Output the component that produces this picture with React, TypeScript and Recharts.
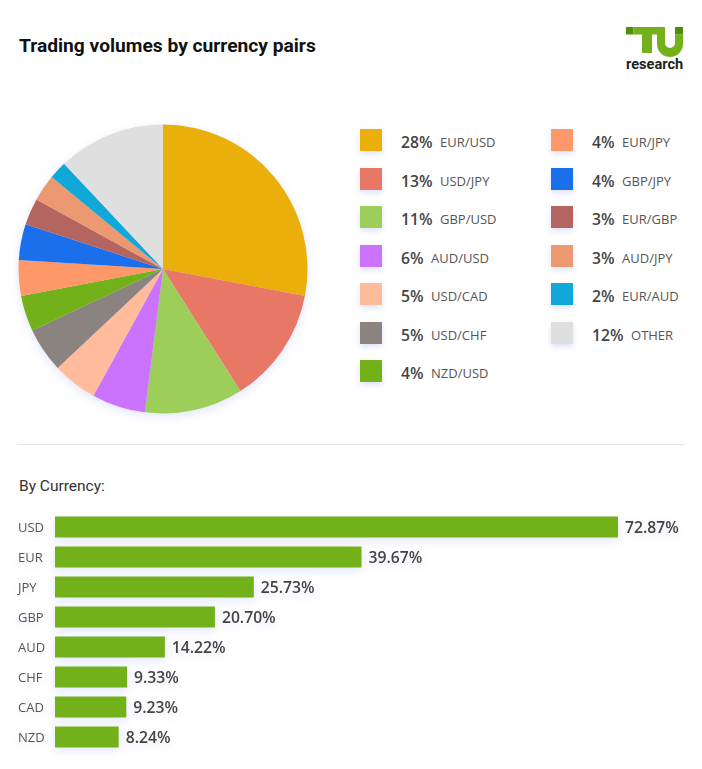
import React from 'react';
import { PieChart, Pie, Cell, BarChart, Bar, XAxis, YAxis, LabelList } from 'recharts';

const pairNames = ['EUR/USD','USD/JPY','GBP/USD','AUD/USD','USD/CAD','USD/CHF','NZD/USD','EUR/JPY','GBP/JPY','EUR/GBP','AUD/JPY','EUR/AUD','OTHER'];
const pairShares = [28,13,11,6,5,5,4,4,4,3,3,2,12];
const pairColors = ['#EAAF0A','#E87865','#9DCE5A','#CB72FF','#FFBB9B','#8B8380','#72B11A','#FF9868','#1B6FEB','#B5655F','#EC9870','#10A8D8','#DFDFDF'];
const currencies = ['USD','EUR','JPY','GBP','AUD','CHF','CAD','NZD'];
const currencyShares = [72.87,39.67,25.73,20.7,14.22,9.33,9.23,8.24];

const pieData = pairNames.map((name, i) => ({ name, value: pairShares[i] }));
const barData = currencies.map((name, i) => ({ name, value: currencyShares[i] }));
const legendColumns = [pieData.slice(0, 7), pieData.slice(7)];
const legendColumnX = [360, 551];
const shadow = 'drop-shadow(0 3px 5px rgba(90,110,240,0.18))';

const CurrencyTick = ({ y, payload }: any) => (
  <text x={18} y={y + 5} fontSize={13} fill="#555" fontFamily="'Open Sans'">{payload.value}</text>
);

const ValueLabel = ({ x, y, width, height, value }: any) => (
  <text x={x + width + 7} y={y + height / 2 + 6} fontSize={15.7} fontWeight={600} fill="#444" fontFamily="'Open Sans'">
    {value.toFixed(2)}%
  </text>
);

export default function App() {
  return (
    <div style={{ position: 'absolute', left: 0, top: 0, width: 702, height: 769, background: '#fff', overflow: 'hidden' }}>
      <div style={{ position: 'absolute', left: 19, top: 35, fontFamily: 'Roboto', fontWeight: 700, fontSize: 19.2, lineHeight: '22px', color: '#111', whiteSpace: 'nowrap' }}>
        Trading volumes by currency pairs
      </div>

      <svg style={{ position: 'absolute', left: 620, top: 20 }} width={70} height={55}>
        <rect x={6} y={7} width={7.5} height={7.5} fill="#4F8F0C" />
        <rect x={13.5} y={7} width={31.5} height={7.5} fill="#72B11A" />
        <rect x={22} y={7} width={10} height={26} fill="#72B11A" />
        <path d="M37 7 h8 v16 a5 5 0 0 0 10 0 v-8.5 h8 v9.5 a13 13 0 0 1 -26 0 z" fill="#72B11A" />
        <rect x={55} y={7} width={8} height={7.5} fill="#4F8F0C" />
        <text x={6} y={49} fontFamily="Roboto" fontWeight={700} fontSize={14.6} fill="#222">research</text>
      </svg>

      <div style={{ position: 'absolute', left: -7, top: 99, filter: shadow }}>
        <PieChart width={330} height={330}>
          <Pie data={pieData} dataKey="value" nameKey="name" cx={165} cy={165} outerRadius={144.5} startAngle={90} endAngle={-270} stroke="none" isAnimationActive={false}>
            {pieData.map((d, i) => <Cell key={d.name} fill={pairColors[i]} />)}
          </Pie>
        </PieChart>
      </div>

      {legendColumns.map((col, c) => col.map((d, r) => {
        const colorIndex = pairNames.indexOf(d.name);
        return (
          <div key={d.name} style={{ position: 'absolute', left: legendColumnX[c], top: 129 + r * 38.5, height: 22, display: 'flex', alignItems: 'center', whiteSpace: 'nowrap', fontFamily: "'Open Sans'" }}>
            <span style={{ width: 22, height: 22, background: pairColors[colorIndex], boxShadow: '0 3px 6px rgba(90,110,240,0.2)', marginRight: 19 }} />
            <span style={{ fontSize: 15.7, fontWeight: 600, color: '#444', marginRight: 7.5, position: 'relative', top: 2 }}>{d.value}%</span>
            <span style={{ fontSize: 13, color: '#555', position: 'relative', top: 2 }}>{d.name}</span>
          </div>
        );
      }))}

      <div style={{ position: 'absolute', left: 18, top: 444, width: 666, height: 1, background: '#e4e4e4' }} />

      <div style={{ position: 'absolute', left: 19, top: 477, fontFamily: 'Roboto', fontSize: 15.5, lineHeight: '18px', color: '#333' }}>By Currency:</div>

      <div style={{ position: 'absolute', left: 0, top: 512 }}>
        <BarChart width={702} height={240} data={barData} layout="vertical" margin={{ top: 0, right: 12, bottom: 0, left: 0 }} barCategoryGap={4.5} style={{ filter: shadow }}>
          <XAxis type="number" hide domain={[0, 82.19]} />
          <YAxis type="category" dataKey="name" width={55} axisLine={false} tickLine={false} tick={<CurrencyTick />} interval={0} />
          <Bar dataKey="value" fill="#72B11A" isAnimationActive={false}>
            <LabelList dataKey="value" content={<ValueLabel />} />
          </Bar>
        </BarChart>
      </div>
    </div>
  );
}
